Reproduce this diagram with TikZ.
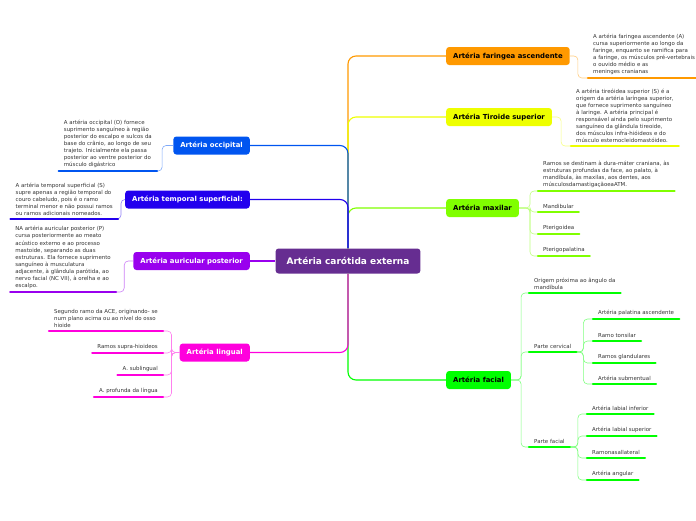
\documentclass[tikz,border=0pt]{standalone}
\usepackage{fontspec}
\setmainfont{DejaVu Sans}
\definecolor{cpurple}{RGB}{102,45,145}
\definecolor{cocc}{RGB}{0,85,240}
\definecolor{ctmp}{RGB}{34,0,238}
\definecolor{caur}{RGB}{153,0,238}
\definecolor{clin}{RGB}{255,0,221}
\definecolor{cfar}{RGB}{255,153,0}
\definecolor{ctir}{RGB}{238,255,0}
\definecolor{cmax}{RGB}{128,255,0}
\definecolor{cfac}{RGB}{0,255,0}
\definecolor{txt}{RGB}{51,51,51}
\tikzset{
  ctrbox/.style={rounded corners=3, fill=cpurple, text=white, font=\fontsize{9}{10}\selectfont\bfseries, minimum height=25, inner xsep=11},
  branch/.style={rounded corners=3, fill=#1, font=\fontsize{6.9}{8}\selectfont\bfseries, minimum height=18, inner xsep=7},
  leaf/.style={text=txt, font=\fontsize{5.45}{7.1}\selectfont, align=left, inner xsep=5, inner ysep=3},
  bar/.style={draw=#1, line width=2.2pt, line cap=round},
  link/.style={draw=#1, line width=1.1pt, rounded corners=8},
  twig/.style={draw=#1!50, line width=0.6pt, rounded corners=4},
}
\begin{document}
\begin{tikzpicture}[x=1pt,y=-1pt]
    \useasboundingbox (0,0) rectangle (696,520);

    \node[ctrbox] (C) at (348,261) {Artéria carótida externa};

    % ramos da esquerda
    \node[branch=cocc, text=white, anchor=east] (O) at (250,145.5) {Artéria occipital};
    \node[branch=ctmp, text=white, anchor=east] (T) at (250,199.5) {Artéria temporal superficial:};
    \node[branch=caur, text=white, anchor=east] (P) at (250,261) {Artéria auricular posterior};
    \node[branch=clin, text=white, anchor=east] (L) at (250,352.5) {Artéria lingual};

    % ramos da direita
    \node[branch=cfar, anchor=west] (F) at (446,56) {Artéria faringea ascendente};
    \node[branch=ctir, anchor=west] (S) at (446,117) {Artéria Tiroide superior};
    \node[branch=cmax, anchor=west] (M) at (446,208) {Artéria maxilar};
    \node[branch=cfac, anchor=west] (Fa) at (446,380) {Artéria facial};

    \node[leaf, anchor=south east] (O1) at (157,171) {A artéria occipital (O) fornece\\suprimento sanguíneo à região\\posterior do escalpo e sulcos da\\base do crânio, ao longo de seu\\trajeto. Inicialmente ela passa\\posterior ao ventre posterior do\\músculo digástrico};
    \node[leaf, anchor=south east] (T1) at (118,219) {A artéria temporal superficial (S)\\supre apenas a região temporal do\\couro cabeludo, pois é o ramo\\terminal menor e não possui ramos\\ou ramos adicionais nomeados.};
    \node[leaf, anchor=south east] (P1) at (116,292) {NA artéria auricular posterior (P)\\cursa posteriormente ao meato\\acústico externo e ao processo\\mastoide, separando as duas\\estruturas. Ela fornece suprimento\\sanguíneo à musculatura\\adjacente, à glândula parótida, ao\\nervo facial (NC VII), à orelha e ao\\escalpo.};
    \node[leaf, anchor=south east] (L1) at (163,331) {Segundo ramo da ACE, originando- se\\num plano acima ou ao nível do osso\\hioide};
    \node[leaf, anchor=south east] (L2) at (163,353) {Ramos supra-hioideos};
    \node[leaf, anchor=south east] (L3) at (163,375) {A. sublingual};
    \node[leaf, anchor=south east] (L4) at (163,397) {A. profunda da língua};

    \node[leaf, anchor=south west] (F1) at (588,78) {A artéria faringea ascendente (A)\\cursa superiormente ao longo da\\faringe, enquanto se ramifica para\\a faringe, os músculos pré-vertebrais\\o ouvido médio e as\\meninges cranianas};
    \node[leaf, anchor=south west] (S1) at (571,146) {A artéria tireóidea superior (S) é a\\origem da artéria laríngea superior,\\que fornece suprimento sanguíneo\\à laringe. A artéria principal é\\responsável ainda pelo suprimento\\sanguíneo da glândula tireoide,\\dos músculos infra-hióideos e do\\músculo esternocleidomastóideo.};
    \node[leaf, anchor=south west] (M1) at (538,191) {Ramos se destinam à dura-máter craniana, às\\estruturas profundas da face, ao palato, à\\mandíbula, às maxilas, aos dentes, aos\\músculosdamastigaçãoeaATM.};
    \node[leaf, anchor=south west] (M2) at (538,212) {Mandibular};
    \node[leaf, anchor=south west] (M3) at (538,234) {Pterigoidea};
    \node[leaf, anchor=south west] (M4) at (538,256) {Pterigopalatina};
    \node[leaf, anchor=south west] (A1) at (529,293) {Origem próxima ao ângulo da\\mandíbula};
    \node[leaf, anchor=south west] (A2) at (529,352) {Parte cervical};
    \node[leaf, anchor=south west] (A3) at (529,447) {Parte facial};
    \node[leaf, anchor=south west] (B1) at (593,319) {Artéria palatina ascendente};
    \node[leaf, anchor=south west] (B2) at (593,341) {Ramo tonsilar};
    \node[leaf, anchor=south west] (B3) at (593,363) {Ramos glandulares};
    \node[leaf, anchor=south west] (B4) at (593,384) {Artéria submentual};
    \node[leaf, anchor=south west] (D1) at (587,414) {Artéria labial inferior};
    \node[leaf, anchor=south west] (D2) at (587,436) {Artéria labial superior};
    \node[leaf, anchor=south west] (D3) at (587,458) {Ramonasallateral};
    \node[leaf, anchor=south west] (D4) at (587,480) {Artéria angular};

    % tronco
    \draw[link=cfar] (C.north) |- (F.west);
    \draw[link=ctir] (C.north) |- (S.west);
    \draw[link=cmax] (C.north) |- (M.west);
    \draw[link=cfac] (C.south) |- (Fa.west);
    \draw[link=cocc] (O.east) -| (C.north);
    \draw[link=ctmp] (T.east) -| (C.north);
    \draw[link=caur] (P.east) -- (C.west);
    \draw[link=clin] (L.east) -| (C.south);

    % folhas
    \draw[twig=cocc] (O.west) -- ++(-11,0) |- (O1.south east);
    \draw[twig=ctmp] (T.west) -- ++(-4,0) |- (T1.south east);
    \draw[twig=caur] (P.west) -- ++(-9,0) |- (P1.south east);
    \foreach \n in {L1,L2,L3,L4}
        \draw[twig=clin] (L.west) -- ++(-8,0) |- (\n.south east);
    \draw[twig=cfar] (F.east) -- ++(8,0) |- (F1.south west);
    \draw[twig=ctir] (S.east) -- ++(9,0) |- (S1.south west);
    \foreach \n in {M1,M2,M3,M4}
        \draw[twig=cmax] (M.east) -- ++(11,0) |- (\n.south west);
    \foreach \n in {A1,A2,A3}
        \draw[twig=cfac] (Fa.east) -- ++(10,0) |- (\n.south west);
    \foreach \n in {B1,B2,B3,B4}
        \draw[twig=cfac] (A2.south east) -- ++(7,0) |- (\n.south west);
    \foreach \n in {D1,D2,D3,D4}
        \draw[twig=cfac] (A3.south east) -- ++(8,0) |- (\n.south west);

    % sublinhados
    \foreach \n/\c in {O1/cocc,T1/ctmp,P1/caur,L1/clin,L2/clin,L3/clin,L4/clin,F1/cfar,S1/ctir,M1/cmax,M2/cmax,M3/cmax,M4/cmax,A1/cfac,A2/cfac,A3/cfac,B1/cfac,B2/cfac,B3/cfac,B4/cfac,D1/cfac,D2/cfac,D3/cfac,D4/cfac}
        \draw[bar=\c] (\n.south west) -- (\n.south east);

\end{tikzpicture}
\end{document}
